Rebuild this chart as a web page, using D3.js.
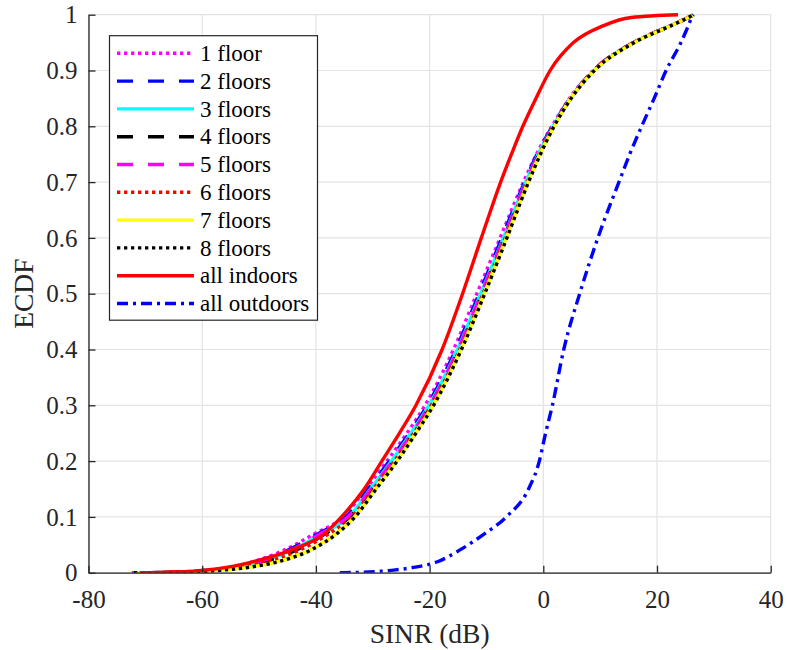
<!DOCTYPE html>
<html>
<head>
<meta charset="utf-8">
<script src="https://cdn.jsdelivr.net/npm/d3@7"></script>
<style>
  html, body { margin: 0; padding: 0; background: #fff; }
  svg { display: block; }
  svg text { font-family: 'Liberation Serif'; }
</style>
</head>
<body>
<div id="chart"></div>
<script>
// ECDF probability levels (shared by every series)
const ecdfLevels = [0, 0.001, 0.005, 0.01, 0.02, 0.04, 0.07, 0.1, 0.15, 0.2, 0.25, 0.3, 0.4, 0.5, 0.6, 0.7, 0.75, 0.8, 0.85, 0.9, 0.95, 0.98, 0.995, 1];

// SINR (dB) at which each series reaches the levels above
const floor1 = [-72.4, -64.5, -59.0, -55.0, -51.0, -45.7, -40.2, -35.2, -31.2, -27.5, -24.0, -20.8, -15.8, -11.7, -7.6, -3.5, -1.2, 1.5, 4.6, 8.8, 15.8, 22.3, 25.5, 26.4];
const floor2 = [-72.0, -64.0, -58.6, -54.5, -50.4, -45.0, -39.6, -34.7, -30.8, -27.1, -23.6, -20.4, -15.4, -11.3, -7.3, -3.3, -1.1, 1.6, 4.7, 8.8, 15.9, 22.3, 25.5, 26.4];
const floor3 = [-71.5, -63.6, -58.0, -54.0, -49.8, -44.3, -39.0, -34.2, -30.4, -26.7, -23.3, -20.1, -15.1, -11.0, -7.0, -3.1, -0.9, 1.7, 4.8, 8.9, 15.9, 22.3, 25.5, 26.4];
const floor4 = [-71.8, -63.3, -57.6, -53.4, -49.0, -43.6, -38.3, -34.0, -30.1, -26.4, -23.0, -19.9, -14.9, -10.8, -6.9, -3.0, -0.8, 1.8, 4.8, 8.9, 15.9, 22.3, 25.5, 26.4];
const floor5 = [-72.2, -63.8, -58.2, -54.2, -50.0, -44.6, -39.2, -34.4, -30.3, -26.5, -23.1, -19.9, -15.0, -10.9, -6.9, -3.0, -0.8, 1.8, 4.8, 8.9, 15.9, 22.3, 25.5, 26.4];
const floor6 = [-71.6, -63.0, -57.2, -53.0, -48.4, -43.0, -37.7, -33.7, -29.9, -26.2, -22.8, -19.7, -14.7, -10.6, -6.7, -2.8, -0.7, 1.8, 4.8, 8.9, 15.9, 22.3, 25.5, 26.4];
const floor7 = [-71.7, -62.6, -56.2, -51.7, -46.7, -41.2, -36.5, -33.2, -29.5, -25.8, -22.5, -19.4, -14.5, -10.4, -6.5, -2.7, -0.6, 1.9, 4.8, 9.0, 16.0, 22.4, 25.5, 26.4];
const floor8 = [-72.0, -62.5, -56.0, -51.5, -46.5, -41.0, -36.3, -33.1, -29.4, -25.7, -22.4, -19.3, -14.4, -10.3, -6.4, -2.6, -0.5, 1.9, 4.9, 9.0, 16.0, 22.4, 25.5, 26.4];
const allIndoors = [-71.0, -66.0, -59.0, -55.5, -51.0, -44.5, -38.5, -35.5, -31.5, -28.4, -25.3, -22.4, -17.8, -14.2, -10.9, -7.5, -5.6, -3.6, -1.3, 1.2, 5.3, 10.5, 15.5, 23.7];
const allOutdoors = [-35.8, -31.5, -26.0, -22.5, -18.5, -14.8, -10.3, -6.5, -2.6, -0.7, 0.4, 1.6, 3.6, 6.4, 9.6, 13.3, 15.2, 17.3, 19.5, 21.6, 24.2, 25.5, 26.1, 26.4];

const seriesNames = ["1 floor", "2 floors", "3 floors", "4 floors", "5 floors", "6 floors", "7 floors", "8 floors", "all indoors", "all outdoors"];
const seriesValues = [floor1, floor2, floor3, floor4, floor5, floor6, floor7, floor8, allIndoors, allOutdoors];
const seriesColors = ["#ff00ff", "#0000ff", "#00ffff", "#000000", "#ff00ff", "#ff0000", "#ffff00", "#000000", "#ff0000", "#0000ff"];
const seriesDash = ["3.3,3.7", "16,15", null, "16,15", "16,15", "3.3,3.7", null, "3.3,3.7", null, "11,5,3,5"];

const xTicks = [-80, -60, -40, -20, 0, 20, 40];
const xTickLabels = ["-80", "-60", "-40", "-20", "0", "20", "40"];
const yTicks = [0, 0.1, 0.2, 0.3, 0.4, 0.5, 0.6, 0.7, 0.8, 0.9, 1];
const yTickLabels = ["0", "0.1", "0.2", "0.3", "0.4", "0.5", "0.6", "0.7", "0.8", "0.9", "1"];

const FONT = "Liberation Serif";
const W = 787, H = 650;
const m = { left: 88.5, right: 787 - 770.7, top: 14.7, bottom: 650 - 572.7 };

const svg = d3.select("#chart").append("svg").attr("width", W).attr("height", H)
  .attr("font-family", FONT);

const x = d3.scaleLinear().domain([-80, 40]).range([m.left, W - m.right]);
const y = d3.scaleLinear().domain([0, 1]).range([H - m.bottom, m.top]);

// grid
const grid = svg.append("g").attr("stroke", "#e3e3e3").attr("stroke-width", 1.2);
grid.selectAll("line.v").data(xTicks).join("line")
  .attr("x1", d => x(d)).attr("x2", d => x(d)).attr("y1", y(0)).attr("y2", y(1));
grid.selectAll("line.h").data(yTicks).join("line")
  .attr("y1", d => y(d)).attr("y2", d => y(d)).attr("x1", x(-80)).attr("x2", x(40));

// clip
svg.append("clipPath").attr("id", "clip").append("rect")
  .attr("x", x(-80)).attr("y", y(1) - 3).attr("width", x(40) - x(-80)).attr("height", y(0) - y(1) + 3);

const line = d3.line()
  .x(d => x(d[0])).y(d => y(d[1]))
  .curve(d3.curveMonotoneX);

const plot = svg.append("g").attr("clip-path", "url(#clip)");
seriesValues.forEach((vals, i) => {
  const pts = vals.map((v, j) => [v, ecdfLevels[j]]);
  plot.append("path")
    .datum(pts)
    .attr("d", line)
    .attr("fill", "none")
    .attr("stroke", seriesColors[i])
    .attr("stroke-width", 3.4)
    .attr("stroke-linejoin", "round")
    .attr("stroke-dasharray", seriesDash[i]);
});

// axes
const xAxis = d3.axisBottom(x).tickValues(xTicks).tickFormat((d, i) => xTickLabels[i])
  .tickSizeInner(-7).tickSizeOuter(0).tickPadding(14);
const gx = svg.append("g").attr("transform", `translate(0,${y(0)})`).call(xAxis);
const yAxis = d3.axisLeft(y).tickValues(yTicks).tickFormat((d, i) => yTickLabels[i])
  .tickSizeInner(-7).tickSizeOuter(0).tickPadding(11);
const gy = svg.append("g").attr("transform", `translate(${x(-80)},0)`).call(yAxis);
[gx, gy].forEach(g => {
  g.attr("font-family", FONT).attr("font-size", 25);
  g.select(".domain").attr("stroke", "#262626").attr("stroke-width", 1.3);
  g.selectAll(".tick line").attr("stroke", "#262626").attr("stroke-width", 1.3);
  g.selectAll(".tick text").attr("fill", "#262626").attr("font-family", FONT).attr("font-size", 25);
});
gx.selectAll(".tick text").attr("dy", null).attr("y", 35.5);
gy.selectAll(".tick text").attr("dy", "0.33em");

// axis labels
svg.append("text").attr("x", (x(-80) + x(40)) / 2).attr("y", 643).attr("text-anchor", "middle")
  .attr("fill", "#262626").attr("font-family", FONT).attr("font-size", 27.5).text("SINR (dB)");
svg.append("text").attr("transform", `translate(33,${y(0.5)}) rotate(-90)`)
  .attr("text-anchor", "middle").attr("fill", "#262626")
  .attr("font-family", FONT).attr("font-size", 27.5).text("ECDF");

// legend
const lg = svg.append("g");
lg.append("rect").attr("x", 109.5).attr("y", 35.7).attr("width", 208).attr("height", 284.5)
  .attr("fill", "#fff").attr("stroke", "#262626").attr("stroke-width", 1.2);
seriesNames.forEach((name, i) => {
  const cy = 53.3 + i * 27.8;
  lg.append("line").attr("x1", 117).attr("x2", 194).attr("y1", cy).attr("y2", cy)
    .attr("stroke", seriesColors[i]).attr("stroke-width", 3.4)
    .attr("stroke-dasharray", seriesDash[i]);
  lg.append("text").attr("x", 200).attr("y", cy + 7.7).attr("fill", "#000")
    .attr("font-family", FONT).attr("font-size", 23).text(name);
});
</script>
</body>
</html>
